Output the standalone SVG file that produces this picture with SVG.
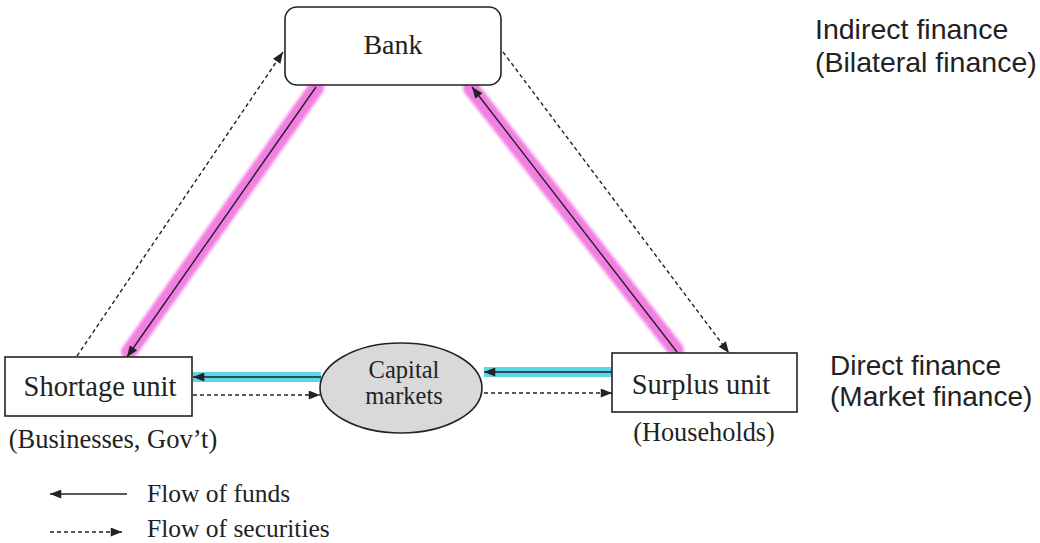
<svg xmlns="http://www.w3.org/2000/svg" width="1040" height="543" viewBox="0 0 1040 543">
<style>
.box{fill:#fff;stroke:#222;stroke-width:1.6}
.serif{font-family:"Liberation Serif","Times New Roman",serif;fill:#222}
.sans{font-family:"Liberation Sans",Arial,sans-serif;fill:#222}
.solid{stroke:#222;stroke-width:1.4;fill:none}
.dash{stroke:#222;stroke-width:1.4;fill:none;stroke-dasharray:4 3}
.pink{stroke:#f27ee2;stroke-width:16;stroke-linecap:round;fill:none;filter:url(#soft)}
.cyan{stroke:#5cd6ea;stroke-width:10;fill:none}
</style>
<defs>
<marker id="ah" viewBox="0 0 10 8" refX="10" refY="4" markerWidth="12" markerHeight="9" markerUnits="userSpaceOnUse" orient="auto">
<path d="M0,0 L10,4 L0,8 z" fill="#222"/>
</marker>
<filter id="soft" x="-20%" y="-20%" width="140%" height="140%">
<feGaussianBlur stdDeviation="1.5"/>
</filter>
</defs>
<rect width="1040" height="543" fill="#fff"/>
<g id="highlights">
<line class="pink" x1="316" y1="88" x2="129" y2="352"/>
<line class="pink" x1="676" y1="350" x2="471" y2="88"/>
<line class="cyan" x1="321" y1="377" x2="193" y2="377"/>
<line class="cyan" x1="612" y1="372" x2="484" y2="372"/>
</g>
<g id="connectors">
<line class="solid" x1="316" y1="87" x2="127" y2="357" marker-end="url(#ah)"/>
<line class="solid" x1="677" y1="352" x2="472" y2="87" marker-end="url(#ah)"/>
<line class="dash" x1="77" y1="356" x2="283" y2="52" marker-end="url(#ah)"/>
<line class="dash" x1="503" y1="52" x2="729" y2="353" marker-end="url(#ah)"/>
<line class="solid" x1="321" y1="377" x2="193" y2="377" marker-end="url(#ah)"/>
<line class="solid" x1="612" y1="372" x2="484" y2="372" marker-end="url(#ah)"/>
<line class="dash" x1="193" y1="395" x2="320" y2="395" marker-end="url(#ah)"/>
<line class="dash" x1="484" y1="393" x2="612" y2="393" marker-end="url(#ah)"/>
</g>
<g id="bank">
<rect class="box" x="285" y="7" width="216" height="78" rx="12"/>
<text class="serif" x="393" y="54" font-size="28" text-anchor="middle">Bank</text>
</g>
<g id="shortage">
<rect class="box" x="5" y="357" width="187" height="59"/>
<text class="serif" x="100" y="396" font-size="28.5" text-anchor="middle">Shortage unit</text>
<text class="serif" x="113" y="448" font-size="26.5" text-anchor="middle">(Businesses, Gov’t)</text>
</g>
<g id="capital">
<ellipse cx="401" cy="388" rx="81" ry="45" fill="#d9d9d9" stroke="#222" stroke-width="1.6"/>
<text class="serif" x="404" y="378" font-size="24.5" text-anchor="middle">Capital</text>
<text class="serif" x="404" y="404" font-size="24.5" text-anchor="middle">markets</text>
</g>
<g id="surplus">
<rect class="box" x="612" y="353" width="185" height="59"/>
<text class="serif" x="701" y="394" font-size="28.5" text-anchor="middle">Surplus unit</text>
<text class="serif" x="704" y="441" font-size="26.3" text-anchor="middle">(Households)</text>
</g>
<g id="labels">
<text class="sans" x="815" y="39" font-size="28.5">Indirect finance</text>
<text class="sans" x="815" y="72" font-size="28.5">(Bilateral finance)</text>
<text class="sans" x="830" y="375" font-size="28">Direct finance</text>
<text class="sans" x="830" y="406" font-size="28">(Market finance)</text>
</g>
<g id="legend">
<line class="solid" x1="127" y1="494" x2="50" y2="494" marker-end="url(#ah)"/>
<text class="serif" x="147" y="502" font-size="25.5">Flow of funds</text>
<line class="dash" x1="50" y1="532" x2="122" y2="532" marker-end="url(#ah)"/>
<text class="serif" x="147" y="537" font-size="25.5">Flow of securities</text>
</g>
</svg>
